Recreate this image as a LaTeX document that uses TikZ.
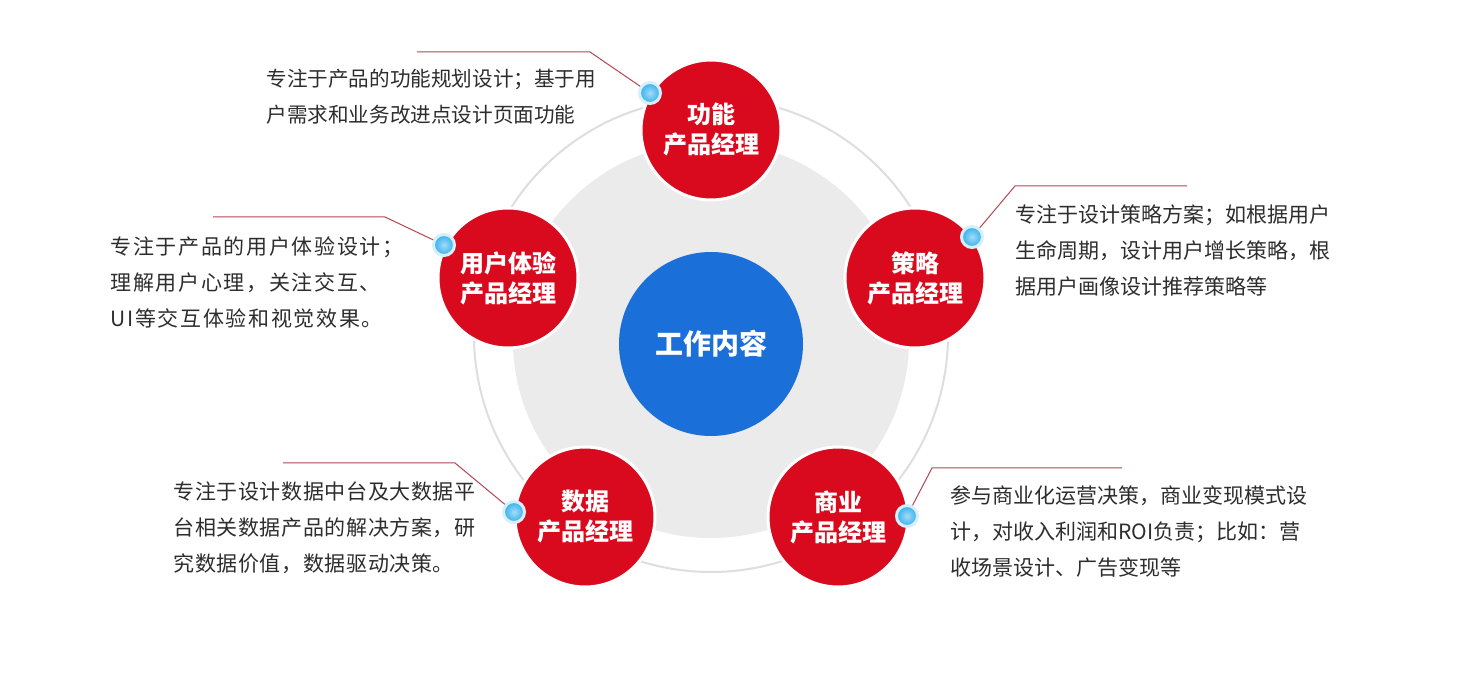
\documentclass[tikz,border=0pt]{standalone}
\usepackage{fontspec}
\newfontfamily\cjk{Noto Sans CJK SC}
\newfontfamily\cjkwide[LetterSpace=8]{Noto Sans CJK SC}
\newfontfamily\cjkmid[LetterSpace=3]{Noto Sans CJK SC}
\definecolor{pmred}{RGB}{218,10,30}
\definecolor{pmblue}{RGB}{27,111,217}
\definecolor{pmgray}{RGB}{235,235,235}
\definecolor{pmring}{RGB}{222,222,222}
\definecolor{pmline}{RGB}{180,70,85}
\definecolor{pmdot}{RGB}{50,175,236}
\definecolor{pmtext}{RGB}{45,45,45}

\begin{document}
\begin{tikzpicture}[x=0.5pt,y=-0.5pt,
    role/.style={circle,draw=white,line width=1.5pt,fill=pmred,minimum size=70pt,inner sep=0pt,
                 align=center,text=white,font=\cjk\bfseries\fontsize{12}{15}\selectfont},
    desc/.style={anchor=west,align=left,inner sep=0pt,text=pmtext,
                 font=\cjk\fontsize{10.5}{18}\selectfont},
    pin/.style={circle,minimum size=10.5pt,inner sep=0pt,shading=radial,
                inner color=pmdot!45!white,outer color=pmdot,draw=pmdot!20!white,line width=1.5pt},
    lead/.style={pmline,line width=0.5pt}]
  \fill[white] (0,0) rectangle (1469,673);
  \useasboundingbox (0,0) rectangle (1469,673);
  % backdrop
  \fill[pmgray] (711,340) circle [radius=99pt];
  \draw[pmring,line width=1pt] (711,335) circle [radius=118.5pt];
  % centre
  \node[circle,fill=pmblue,minimum size=92pt,inner sep=0pt,text=white,
        font=\cjk\bfseries\fontsize{14}{17}\selectfont]
        (core) at (711,344) {工作内容};
  % five roles
  \node[role] (func) at (711,130) {功能\\产品经理};
  \node[role] (strat) at (915,278) {策略\\产品经理};
  \node[role] (biz) at (838,517) {商业\\产品经理};
  \node[role] (data) at (585,517) {数据\\产品经理};
  \node[role] (ux) at (508,278) {用户体验\\产品经理};
  % descriptions
  \node[desc,font=\cjk\fontsize{10.3}{18}\selectfont] (txtfunc) at (266,97)
        {专注于产品的功能规划设计；基于用\\户需求和业务改进点设计页面功能};
  \node[desc,font=\cjkwide\fontsize{10.5}{18}\selectfont] (txtux) at (110,282)
        {专注于产品的用户体验设计；\\理解用户心理，关注交互、\\UI等交互体验和视觉效果。};
  \node[desc] (txtstrat) at (1015,251)
        {专注于设计策略方案；如根据用户\\生命周期，设计用户增长策略，根\\据用户画像设计推荐策略等};
  \node[desc,font=\cjkmid\fontsize{10.5}{18}\selectfont] (txtdata) at (173,528)
        {专注于设计数据中台及大数据平\\台相关数据产品的解决方案，研\\究数据价值，数据驱动决策。};
  \node[desc] (txtbiz) at (950,532)
        {参与商业化运营决策，商业变现模式设\\计，对收入利润和ROI负责；比如：营\\收场景设计、广告变现等};
  % leader lines
  \coordinate (kfunc) at (590,52);  \coordinate (efunc) at (417,52);
  \coordinate (kux) at (385,217);   \coordinate (eux) at (213,217);
  \coordinate (kstrat) at (1015,186); \coordinate (estrat) at (1187,186);
  \coordinate (kbiz) at (932,468);  \coordinate (ebiz) at (1122,468);
  \coordinate (kdata) at (455,463); \coordinate (edata) at (283,463);
  \node[pin] (pfunc) at (650,93) {};
  \node[pin] (pux) at (444,245) {};
  \node[pin] (pstrat) at (972,237) {};
  \node[pin] (pbiz) at (907,516) {};
  \node[pin] (pdata) at (514,512) {};
  \draw[lead] (pfunc) -- (kfunc) -- (efunc);
  \draw[lead] (pux) -- (kux) -- (eux);
  \draw[lead] (pstrat) -- (kstrat) -- (estrat);
  \draw[lead] (pbiz) -- (kbiz) -- (ebiz);
  \draw[lead] (pdata) -- (kdata) -- (edata);
\end{tikzpicture}
\end{document}
